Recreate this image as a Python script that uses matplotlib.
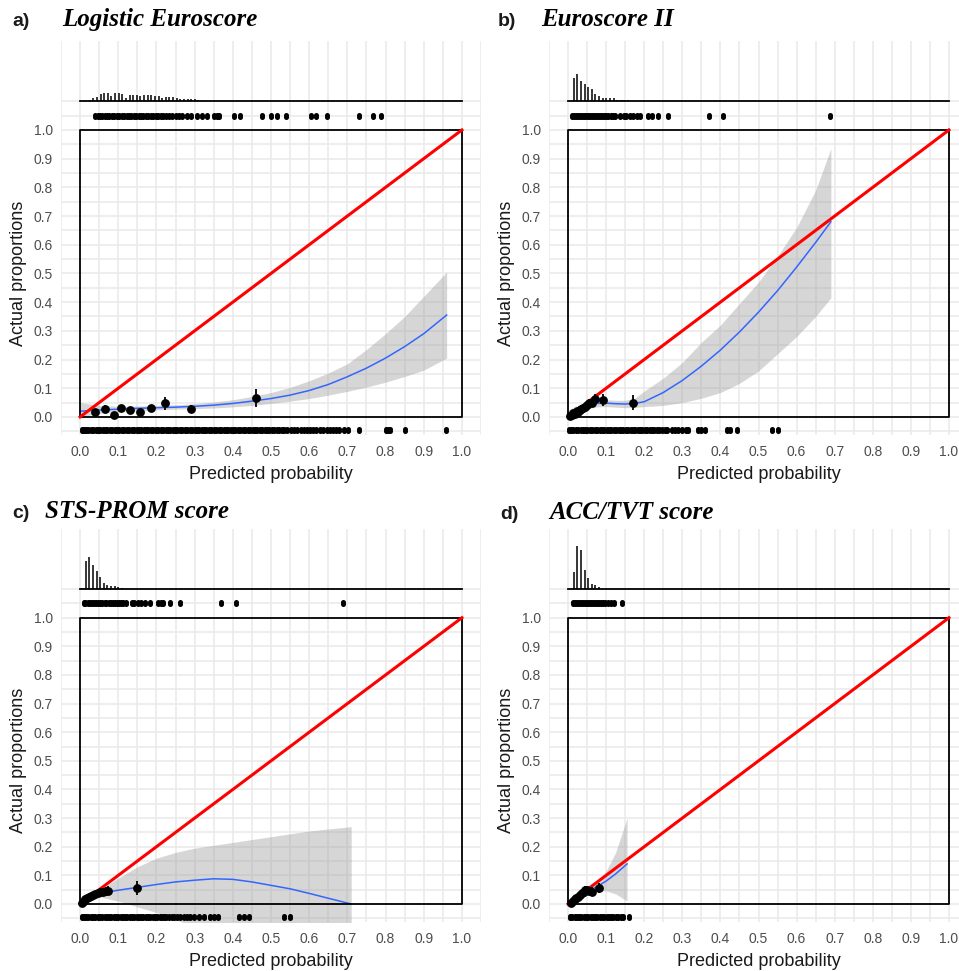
import numpy as np
import matplotlib
matplotlib.use("Agg")
import matplotlib.pyplot as plt

plt.rcParams['font.family'] = ['Liberation Sans', 'DejaVu Sans']

# ---------------- data ----------------
# histogram of predicted probabilities (bin width 0.01), counts
A_HIST_START, A_HIST = 0.02, [1, 3, 4, 7, 8, 8, 5, 8, 8, 7, 3, 6, 6, 6, 5, 6, 6, 6, 5, 5,
                               3, 4, 4, 4, 3, 2, 2, 2, 2, 2, 1]
B_HIST_START, B_HIST = 0.01, [23, 27, 20, 17, 14, 12, 7, 5, 3, 3, 3, 3, 1, 1, 1, 1]
C_HIST_START, C_HIST = 0.00, [1, 28, 32, 24, 18, 12, 6, 4, 3, 3, 2, 1]
D_HIST_START, D_HIST = 0.01, [17, 43, 39, 19, 11, 5, 4, 2]

# predicted probabilities of patients with outcome = 1 (top rug)
A_RUG1 = [0.040, 0.046, 0.052, 0.058, 0.065, 0.071, 0.077, 0.084, 0.090, 0.096, 0.103,
          0.109, 0.115, 0.122, 0.128, 0.134, 0.141, 0.147, 0.153, 0.160, 0.166, 0.172,
          0.179, 0.185, 0.191, 0.198, 0.204, 0.211, 0.218, 0.226, 0.233, 0.241, 0.250,
          0.258, 0.268, 0.279, 0.290, 0.306, 0.319, 0.332, 0.352, 0.359, 0.364, 0.402,
          0.418, 0.477, 0.499, 0.516, 0.538, 0.604, 0.617, 0.647, 0.731, 0.766, 0.787]
B_RUG1 = [0.010, 0.015, 0.020, 0.025, 0.031, 0.036, 0.041, 0.047, 0.052, 0.057, 0.063,
          0.068, 0.073, 0.079, 0.084, 0.089, 0.095, 0.100, 0.106, 0.112, 0.118, 0.123,
          0.137, 0.146, 0.152, 0.163, 0.171, 0.180, 0.189, 0.210, 0.220, 0.237, 0.262,
          0.371, 0.408, 0.689]
C_RUG1 = [0.009, 0.014, 0.020, 0.025, 0.031, 0.036, 0.042, 0.047, 0.053, 0.058, 0.064,
          0.069, 0.075, 0.080, 0.086, 0.091, 0.097, 0.102, 0.108, 0.113, 0.119, 0.136,
          0.142, 0.151, 0.159, 0.171, 0.184, 0.205, 0.211, 0.218, 0.236, 0.262, 0.369,
          0.408, 0.689]
D_RUG1 = [0.014, 0.019, 0.024, 0.029, 0.034, 0.040, 0.045, 0.050, 0.055, 0.061, 0.066,
          0.071, 0.076, 0.082, 0.087, 0.092, 0.097, 0.106, 0.114, 0.121, 0.141]

# predicted probabilities of patients with outcome = 0 (bottom rug)
A_RUG0 = [0.004, 0.010, 0.016, 0.021, 0.028, 0.034, 0.041, 0.047, 0.052, 0.059, 0.066,
          0.071, 0.078, 0.084, 0.091, 0.097, 0.103, 0.110, 0.116, 0.122, 0.129, 0.135,
          0.141, 0.148, 0.154, 0.160, 0.167, 0.173, 0.179, 0.186, 0.192, 0.198, 0.205,
          0.211, 0.217, 0.224, 0.230, 0.236, 0.243, 0.249, 0.255, 0.262, 0.268, 0.274,
          0.281, 0.287, 0.293, 0.300, 0.306, 0.312, 0.319, 0.325, 0.331, 0.338, 0.344,
          0.350, 0.357, 0.363, 0.369, 0.376, 0.382, 0.388, 0.395, 0.401, 0.407, 0.414,
          0.420, 0.426, 0.433, 0.439, 0.445, 0.452, 0.458, 0.464, 0.471, 0.477, 0.483,
          0.490, 0.496, 0.502, 0.509, 0.515, 0.521, 0.528, 0.534, 0.541, 0.552, 0.561,
          0.567, 0.578, 0.586, 0.593, 0.603, 0.611, 0.618, 0.629, 0.637, 0.646, 0.655,
          0.662, 0.671, 0.679, 0.692, 0.702, 0.731, 0.800, 0.806, 0.812, 0.851, 0.958]
B_RUG0 = [0.002, 0.008, 0.014, 0.020, 0.026, 0.033, 0.039, 0.045, 0.051, 0.058, 0.064,
          0.070, 0.076, 0.083, 0.089, 0.095, 0.101, 0.108, 0.114, 0.120, 0.126, 0.133,
          0.139, 0.145, 0.151, 0.158, 0.164, 0.170, 0.176, 0.183, 0.189, 0.195, 0.201,
          0.208, 0.214, 0.220, 0.226, 0.233, 0.240, 0.247, 0.254, 0.260, 0.273, 0.281,
          0.289, 0.298, 0.309, 0.316, 0.341, 0.348, 0.360, 0.418, 0.424, 0.443, 0.535,
          0.552]
C_RUG0 = [0.004, 0.010, 0.016, 0.022, 0.028, 0.034, 0.040, 0.046, 0.052, 0.058, 0.064,
          0.070, 0.076, 0.082, 0.088, 0.094, 0.100, 0.106, 0.112, 0.118, 0.124, 0.130,
          0.136, 0.142, 0.148, 0.154, 0.160, 0.166, 0.172, 0.178, 0.184, 0.190, 0.196,
          0.202, 0.208, 0.214, 0.220, 0.226, 0.233, 0.240, 0.247, 0.255, 0.262, 0.271,
          0.279, 0.288, 0.299, 0.311, 0.324, 0.341, 0.352, 0.362, 0.416, 0.428, 0.442,
          0.534, 0.551]
D_RUG0 = [0.005, 0.011, 0.017, 0.023, 0.029, 0.035, 0.041, 0.047, 0.053, 0.059, 0.065,
          0.071, 0.077, 0.083, 0.089, 0.095, 0.101, 0.107, 0.113, 0.119, 0.125, 0.131,
          0.138, 0.145, 0.160]

# grouped observed proportions with confidence bars
A_PX = [0.039, 0.066, 0.088, 0.108, 0.130, 0.156, 0.185, 0.223, 0.291, 0.462]
A_PY = [0.016, 0.028, 0.007, 0.030, 0.024, 0.018, 0.030, 0.048, 0.028, 0.066]
A_PE = [0.010, 0.013, 0.008, 0.012, 0.012, 0.010, 0.012, 0.023, 0.012, 0.030]
B_PX = [0.005, 0.010, 0.014, 0.018, 0.023, 0.027, 0.031, 0.035, 0.040, 0.045, 0.049,
        0.055, 0.062, 0.071, 0.091, 0.170]
B_PY = [0.004, 0.008, 0.013, 0.010, 0.019, 0.016, 0.024, 0.028, 0.030, 0.035, 0.042,
        0.047, 0.048, 0.062, 0.059, 0.050]
B_PE = [0.006, 0.008, 0.009, 0.009, 0.010, 0.010, 0.011, 0.012, 0.012, 0.013, 0.014,
        0.015, 0.015, 0.018, 0.020, 0.025]
C_PX = [0.004, 0.009, 0.014, 0.019, 0.024, 0.029, 0.034, 0.040, 0.046, 0.053, 0.060,
        0.067, 0.074, 0.150]
C_PY = [0.003, 0.010, 0.016, 0.021, 0.025, 0.029, 0.031, 0.034, 0.038, 0.041, 0.043,
        0.045, 0.047, 0.055]
C_PE = [0.006, 0.008, 0.009, 0.010, 0.011, 0.011, 0.012, 0.012, 0.013, 0.013, 0.014,
        0.014, 0.015, 0.025]
D_PX = [0.008, 0.014, 0.018, 0.022, 0.027, 0.031, 0.036, 0.041, 0.045, 0.050, 0.055,
        0.062, 0.082]
D_PY = [0.004, 0.012, 0.016, 0.020, 0.026, 0.030, 0.037, 0.041, 0.049, 0.050, 0.047,
        0.043, 0.055]
D_PE = [0.006, 0.008, 0.009, 0.010, 0.011, 0.012, 0.012, 0.013, 0.014, 0.014, 0.014,
        0.015, 0.018]

# smoothed calibration curve and its band
A_SX = [0, 0.05, 0.1, 0.15, 0.2, 0.25, 0.3, 0.35, 0.4, 0.45, 0.5, 0.55, 0.6, 0.65, 0.7,
        0.75, 0.8, 0.85, 0.9, 0.96]
A_FIT = [0.020, 0.024, 0.027, 0.030, 0.032, 0.034, 0.037, 0.041, 0.047, 0.055, 0.064,
         0.076, 0.092, 0.113, 0.140, 0.170, 0.205, 0.245, 0.290, 0.355]
A_LO = [0.000, 0.012, 0.018, 0.022, 0.025, 0.027, 0.029, 0.031, 0.035, 0.040, 0.047,
        0.055, 0.064, 0.076, 0.089, 0.104, 0.121, 0.141, 0.163, 0.205]
A_HI = [0.050, 0.040, 0.037, 0.038, 0.040, 0.042, 0.046, 0.052, 0.060, 0.071, 0.085,
        0.103, 0.126, 0.153, 0.185, 0.235, 0.290, 0.350, 0.420, 0.505]
B_SX = [0, 0.025, 0.05, 0.075, 0.1, 0.125, 0.15, 0.175, 0.2, 0.25, 0.3, 0.35, 0.4, 0.45,
        0.5, 0.55, 0.6, 0.65, 0.69]
B_FIT = [0.010, 0.027, 0.040, 0.047, 0.048, 0.046, 0.045, 0.047, 0.053, 0.085, 0.127,
         0.177, 0.233, 0.296, 0.365, 0.440, 0.522, 0.608, 0.680]
B_LO = [0.000, 0.015, 0.028, 0.035, 0.036, 0.034, 0.032, 0.033, 0.036, 0.040, 0.050,
        0.065, 0.085, 0.117, 0.160, 0.220, 0.280, 0.350, 0.415]
B_HI = [0.025, 0.040, 0.052, 0.059, 0.060, 0.058, 0.058, 0.065, 0.090, 0.135, 0.190,
        0.260, 0.320, 0.395, 0.470, 0.560, 0.660, 0.790, 0.935]
C_SX = [0, 0.05, 0.1, 0.15, 0.2, 0.25, 0.3, 0.35, 0.4, 0.45, 0.5, 0.55, 0.6, 0.65, 0.71]
C_FIT = [0.000, 0.037, 0.048, 0.058, 0.068, 0.077, 0.083, 0.088, 0.086, 0.077, 0.065,
         0.053, 0.037, 0.020, 0.000]
C_LO = [-0.010, 0.025, 0.010, -0.010, -0.030, -0.055, -0.080, -0.100, -0.120, -0.140,
        -0.160, -0.180, -0.200, -0.220, -0.250]
C_HI = [0.010, 0.050, 0.090, 0.130, 0.160, 0.180, 0.195, 0.205, 0.215, 0.225, 0.235,
        0.245, 0.255, 0.262, 0.270]
D_SX = [0, 0.025, 0.05, 0.075, 0.1, 0.125, 0.155]
D_FIT = [0.005, 0.024, 0.043, 0.060, 0.080, 0.105, 0.140]
D_LO = [0.000, 0.018, 0.036, 0.045, 0.046, 0.035, 0.010]
D_HI = [0.012, 0.030, 0.050, 0.075, 0.115, 0.180, 0.300]

TICKS = [0.0, 0.1, 0.2, 0.3, 0.4, 0.5, 0.6, 0.7, 0.8, 0.9, 1.0]
TICK_LABELS = ["0.0", "0.1", "0.2", "0.3", "0.4", "0.5", "0.6", "0.7", "0.8", "0.9", "1.0"]

panels = [
    ("a)", "Logistic Euroscore", A_HIST_START, A_HIST, A_RUG1, A_RUG0, A_PX, A_PY, A_PE,
     A_SX, A_FIT, A_LO, A_HI),
    ("b)", "Euroscore II", B_HIST_START, B_HIST, B_RUG1, B_RUG0, B_PX, B_PY, B_PE,
     B_SX, B_FIT, B_LO, B_HI),
    ("c)", "STS-PROM score", C_HIST_START, C_HIST, C_RUG1, C_RUG0, C_PX, C_PY, C_PE,
     C_SX, C_FIT, C_LO, C_HI),
    ("d)", "ACC/TVT score", D_HIST_START, D_HIST, D_RUG1, D_RUG0, D_PX, D_PY, D_PE,
     D_SX, D_FIT, D_LO, D_HI),
]

# ---------------- layout ----------------
W, H = 959, 971
fig = plt.figure(figsize=(W / 100, H / 100), dpi=100)

# axes rectangles in pixels: (left, top, right, bottom)
rects = [(61, 41, 481, 435), (549, 41, 968, 435),
         (61, 529, 481, 922), (549, 529, 968, 922)]
label_pos = [(12, 62, 26), (498, 541, 26), (12, 45, 518), (500, 549, 519)]

HIST_BASE = 1.1
HIST_UNIT = 0.00348
RUG_ROWS = [0.0035, -0.0035]   # points are jittered vertically in two rows
GRID_C = "#EBEBEB"

for (tag, title, hstart, hist, rug1, rug0, px, py, pe, sx, fit, lo, hi), \
        (l, t, r, b), (tx, ttx, ty) in zip(panels, rects, label_pos):
    ax = fig.add_axes([l / W, 1 - b / H, (r - l) / W, (b - t) / H])
    ax.set_xlim(-0.05, 1.05)
    ax.set_ylim(-0.063, 1.31)
    for s in ax.spines.values():
        s.set_visible(False)

    ax.set_xticks(TICKS)
    ax.set_xticklabels(TICK_LABELS)
    ax.set_yticks(TICKS)
    ax.set_yticklabels(TICK_LABELS)
    ax.set_xticks(np.arange(-0.05, 1.06, 0.05), minor=True)
    ax.set_yticks(np.arange(-0.05, 1.11, 0.05), minor=True)
    ax.grid(True, which="both", color=GRID_C, lw=1.2, zorder=0)
    ax.tick_params(which="both", length=0)
    ax.tick_params(axis="x", pad=7, labelsize=10, labelcolor="#4D4D4D")
    ax.tick_params(axis="y", pad=6, labelsize=10, labelcolor="#4D4D4D")
    ax.set_axisbelow(True)

    # band and smooth fit
    ax.fill_between(sx, lo, hi, color="#999999", alpha=0.4, lw=0, zorder=2)
    ax.plot(sx, fit, color="#3366FF", lw=1.1, zorder=3)

    # box and ideal line
    ax.plot([0, 1, 1, 0, 0], [0, 0, 1, 1, 0], color="black", lw=1.3, zorder=4)
    ax.plot([0, 1], [0, 1], color="#FF0000", lw=2.2, zorder=5)

    # grouped points
    ax.errorbar(px, py, yerr=pe, fmt="o", color="black", ms=5.3, elinewidth=1.3,
                capsize=0, zorder=6)

    # rugs
    for dy in RUG_ROWS:
        ax.plot(rug1, [1.05 + dy] * len(rug1), "o", color="black", ms=3.6, mew=0,
                zorder=6)
        ax.plot(rug0, [-0.045 + dy] * len(rug0), "o", color="black", ms=3.6, mew=0,
                zorder=6)

    # histogram on top
    hx = [hstart + 0.005 + 0.0095 * i for i in range(len(hist))]
    ax.vlines(hx, HIST_BASE, [HIST_BASE + c * HIST_UNIT for c in hist],
              color="black", lw=1.1, zorder=6)
    ax.plot([0, 1], [HIST_BASE, HIST_BASE], color="black", lw=1.3, zorder=6)

    ax.set_xlabel("Predicted probability", fontsize=13, color="#1A1A1A", labelpad=5)
    ax.set_ylabel("Actual proportions", fontsize=13, color="#1A1A1A")
    ax.yaxis.set_label_coords(-0.082, (0.5 + 0.063) / 1.373)

    fig.text(tx / W, 1 - ty / H, tag, fontsize=14, fontweight="bold",
             ha="left", va="baseline", color="#1A1A1A")
    fig.text(ttx / W, 1 - ty / H, title, fontsize=18, fontweight="bold",
             fontstyle="italic", family="Liberation Serif",
             ha="left", va="baseline", color="black")

fig.savefig("out.png", dpi=100)
